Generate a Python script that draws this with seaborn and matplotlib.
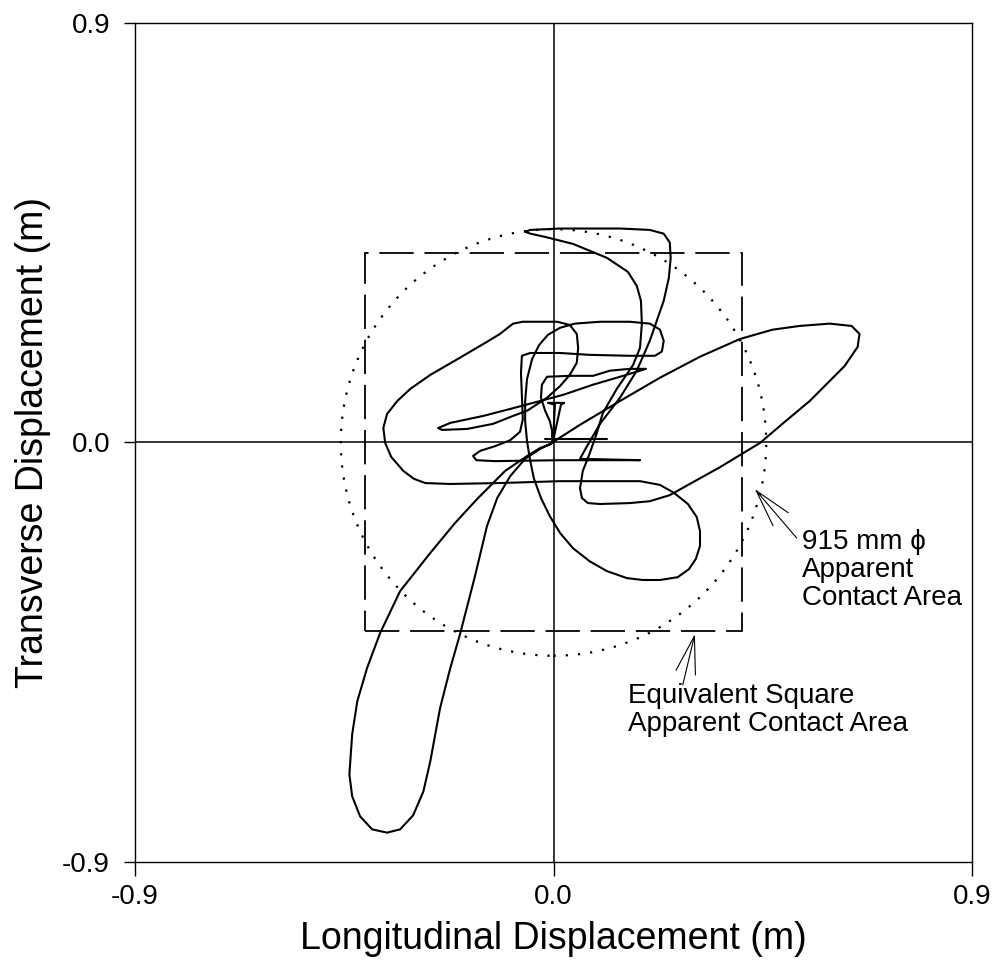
import numpy as np
import matplotlib
matplotlib.use("Agg")
import matplotlib.pyplot as plt
import seaborn as sns
from matplotlib.patches import Circle, Rectangle
from matplotlib.ticker import FormatStrFormatter

# Diametro da area de contato aparente (m) e limites dos eixos
contact_diameter = 0.915
axis_limit = 0.9
tick_values = [-0.9, 0.0, 0.9]

# Trajetoria: laco inferior esquerdo (m)
sw_loop_x = [-0.005, -0.029, -0.057, -0.104, -0.164, -0.212, -0.265, -0.330, -0.373, -0.401,
             -0.422, -0.433, -0.439, -0.433, -0.416, -0.390, -0.358, -0.330, -0.302, -0.280,
             -0.265, -0.244, -0.222, -0.201, -0.169, -0.143, -0.121, -0.093, -0.061, -0.029, -0.003]
sw_loop_y = [-0.003, -0.012, -0.029, -0.061, -0.121, -0.173, -0.237, -0.319, -0.409, -0.484,
             -0.555, -0.626, -0.712, -0.759, -0.802, -0.830, -0.837, -0.830, -0.800, -0.749,
             -0.684, -0.570, -0.484, -0.411, -0.287, -0.179, -0.119, -0.072, -0.035, -0.014, -0.001]

# Trajetoria: laco superior direito + curva do topo (m)
ne_path_x = [-0.001, 0.057, 0.143, 0.229, 0.315, 0.401, 0.471, 0.529, 0.594, 0.641,
             0.658, 0.654, 0.626, 0.551, 0.497, 0.444, 0.358, 0.293, 0.250, 0.207,
             0.164, 0.100, 0.074, 0.061, 0.057, 0.063, 0.078, 0.093, 0.106, 0.136,
             0.171, 0.186, 0.190, 0.188, 0.179, 0.160, 0.115, 0.042, -0.018, -0.050,
             -0.061, -0.050, 0.014, 0.143, 0.207, 0.237, 0.250, 0.252, 0.248, 0.237,
             0.222, 0.207, 0.179, 0.143, 0.100, 0.072, 0.057, 0.186]
ne_path_y = [0.001, 0.038, 0.089, 0.139, 0.184, 0.222, 0.242, 0.250, 0.255, 0.250,
             0.233, 0.205, 0.164, 0.089, 0.044, -0.001, -0.053, -0.089, -0.113, -0.126,
             -0.130, -0.132, -0.130, -0.119, -0.098, -0.061, -0.023, 0.020, 0.063, 0.115,
             0.166, 0.203, 0.255, 0.304, 0.336, 0.366, 0.396, 0.426, 0.441, 0.448,
             0.452, 0.456, 0.459, 0.459, 0.456, 0.448, 0.429, 0.396, 0.353, 0.304,
             0.261, 0.218, 0.154, 0.096, 0.040, -0.008, -0.035, -0.038]

# Trajetoria: lacos centrais (m)
mid_path_x = [-0.003, -0.003, -0.008, -0.018, -0.027, -0.025, -0.014, 0.035, 0.085, 0.121,
              0.164, 0.199, 0.143, 0.085, 0.020, -0.029, -0.093, -0.151, -0.222, -0.248,
              -0.240, -0.186, -0.130, -0.087, -0.057, -0.014, 0.014, 0.035, 0.050, 0.053,
              0.050, 0.035, 0.008, -0.066, -0.087, -0.115, -0.143, -0.201, -0.265, -0.308,
              -0.336, -0.358, -0.366, -0.362, -0.349, -0.323, -0.300, -0.276, -0.222, -0.115,
              0.014, 0.186, 0.229, 0.259, 0.289, 0.308, 0.315, 0.315, 0.306, 0.291,
              0.267, 0.229, 0.192, 0.158, 0.115, 0.078, 0.042, 0.014, -0.008, -0.027,
              -0.042, -0.050, -0.057, -0.061, -0.061, -0.057, -0.046, -0.031, -0.012, 0.014,
              0.046, 0.100, 0.164, 0.207, 0.229, 0.237, 0.233, 0.218, 0.164, 0.078,
              0.014, -0.050, -0.068, -0.070, -0.068, -0.066, -0.072, -0.093, -0.126, -0.158,
              -0.173, -0.166, -0.126, 0.014, 0.186]
mid_path_y = [0.003, 0.025, 0.046, 0.068, 0.096, 0.124, 0.141, 0.143, 0.143, 0.154,
              0.158, 0.158, 0.141, 0.124, 0.102, 0.089, 0.072, 0.057, 0.042, 0.031,
              0.027, 0.029, 0.040, 0.057, 0.068, 0.096, 0.121, 0.145, 0.171, 0.203,
              0.233, 0.252, 0.259, 0.259, 0.255, 0.233, 0.216, 0.182, 0.145, 0.115,
              0.089, 0.061, 0.031, -0.001, -0.031, -0.061, -0.078, -0.087, -0.089, -0.087,
              -0.083, -0.083, -0.091, -0.108, -0.132, -0.160, -0.190, -0.222, -0.250, -0.272,
              -0.289, -0.295, -0.295, -0.291, -0.276, -0.255, -0.227, -0.194, -0.158, -0.119,
              -0.078, -0.040, 0.003, 0.046, 0.089, 0.136, 0.179, 0.209, 0.231, 0.246,
              0.255, 0.259, 0.259, 0.255, 0.242, 0.218, 0.195, 0.186, 0.186, 0.188,
              0.192, 0.192, 0.186, 0.149, 0.100, 0.050, 0.023, 0.005, -0.008, -0.018,
              -0.029, -0.038, -0.040, -0.038, -0.038]

# Pequenos tracos perto da origem (m)
origin_v_x = [-0.001, 0.003, -0.012, 0.023, 0.016, -0.001]
origin_v_y = [0.003, 0.081, 0.085, 0.085, 0.081, 0.003]
origin_bar_x = [-0.018, 0.115]
origin_bar_y = [0.007, 0.007]

segments = [(sw_loop_x, sw_loop_y), (ne_path_x, ne_path_y), (mid_path_x, mid_path_y),
            (origin_v_x, origin_v_y), (origin_bar_x, origin_bar_y)]

sns.set_theme(style="white")
plt.rcParams["font.family"] = ["Liberation Sans", "DejaVu Sans"]
plt.rcParams["axes.unicode_minus"] = False
plt.rcParams.update({"text.color": "black", "axes.labelcolor": "black",
                     "xtick.color": "black", "ytick.color": "black"})

fig = plt.figure(figsize=(9.95, 9.77), dpi=100)
ax = fig.add_axes([0.1357, 0.1177, 0.8412, 0.8588])

# Eixos em zero
ax.axhline(0, color="black", lw=1.1, zorder=1)
ax.axvline(0, color="black", lw=1.1, zorder=1)

# Area de contato: circulo pontilhado e quadrado equivalente tracejado
radius = contact_diameter / 2
side = contact_diameter * np.sqrt(np.pi) / 2
ax.add_patch(Circle((0, 0), radius, fill=False, ec="black", lw=1.6, linestyle=(0, (1, 4.5))))
ax.add_patch(Rectangle((-side / 2, -side / 2), side, side, fill=False, ec="black",
                       lw=1.3, linestyle=(0, (19, 6))))

for xs, ys in segments:
    sns.lineplot(x=xs, y=ys, sort=False, estimator=None, color="black",
                 linewidth=1.5, ax=ax, zorder=3)

# Anotacoes
arrow = dict(arrowstyle="->,head_length=1.35,head_width=0.36", color="black", lw=0.8,
             shrinkA=0, shrinkB=0, mutation_scale=20)
ax.annotate("", xy=(0.433, -0.100), xytext=(0.523, -0.205), arrowprops=arrow)
ax.text(0.534, -0.186, "915 mm \u03d5\nApparent\nContact Area", fontsize=20,
        ha="left", va="top", linespacing=1.1)
ax.annotate("", xy=(0.304, -0.411), xytext=(0.278, -0.520), arrowprops=arrow)
ax.text(0.160, -0.515, "Equivalent Square\nApparent Contact Area", fontsize=20,
        ha="left", va="top", linespacing=1.1)

ax.set_xlim(-axis_limit, axis_limit)
ax.set_ylim(-axis_limit, axis_limit)
ax.set_xticks(tick_values)
ax.set_yticks(tick_values)
ax.xaxis.set_major_formatter(FormatStrFormatter("%.1f"))
ax.yaxis.set_major_formatter(FormatStrFormatter("%.1f"))
ax.tick_params(axis="x", direction="out", length=10, width=1, color="black",
               labelsize=20, labelcolor="black", pad=6, bottom=True)
ax.tick_params(axis="y", direction="out", length=8, width=1, color="black",
               labelsize=20, labelcolor="black", pad=10, left=True)
for sp in ax.spines.values():
    sp.set_color("black")
    sp.set_linewidth(1.0)

ax.set_xlabel("Longitudinal Displacement (m)", fontsize=27, labelpad=8)
ax.set_ylabel("Transverse Displacement (m)", fontsize=27, labelpad=8)

fig.savefig("out.png", dpi=100, facecolor="white")
